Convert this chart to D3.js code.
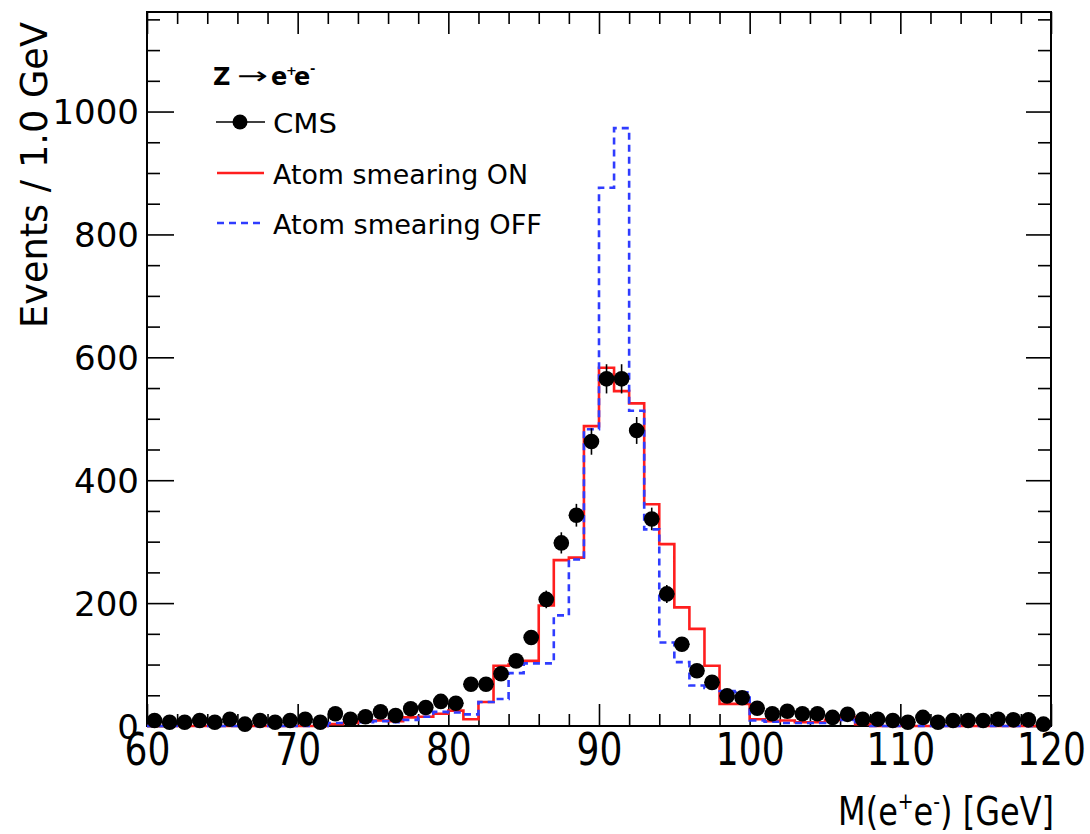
<!DOCTYPE html>
<html><head><meta charset="utf-8">
<script src="https://cdn.jsdelivr.net/npm/d3@7"></script>
<style>body{margin:0;background:#fff}svg{display:block}</style>
</head><body><svg id="c" width="1090" height="834"></svg>
<script>
// ---- data (1 GeV bins, lower edges 60..119) ----
const binLow = d3.range(60, 120, 1);
const cmsCounts = [9,6,6,9,6,11,3,9,6,9,
                   11,6,20,11,15,23,17,28,30,40,
                   37,68,68,85,106,144,206,298,343,463,
                   565,565,481,337,215,133,90,71,49,46,
                   29,20,24,20,20,14,19,11,11,9,
                   6,14,6,9,9,9,11,10,10,3];
const atomOn  = [0,0,0,0,0,0,0,0,0,0,
                 0,0,3,5,8,9,8,14,15,20,
                 25,11,39,98,100,106,196,270,274,488,
                 583,545,525,361,296,193,158,98,36,36,
                 11,8,9,6,6,10,15,3,0,0,
                 0,0,0,0,0,0,0,0,0,0];
const atomOff = [0,0,0,0,0,0,0,0,0,0,
                 0,0,5,5,6,8,6,10,15,23,
                 22,19,39,44,86,102,102,180,271,483,
                 876,973,513,320,136,104,66,62,57,55,
                 9,7,5,5,5,7,10,2,0,0,
                 0,0,0,0,0,0,0,0,0,0];
const xTickValues = [60,70,80,90,100,110,120];
const yTickValues = [0,200,400,600,800,1000];
const legendLabels = ["CMS", "Atom smearing ON", "Atom smearing OFF"];

// ---- layout ----
const svg = d3.select("#c");
svg.append("rect").attr("width",1090).attr("height",834).attr("fill","#fff");
const x = d3.scaleLinear().domain([60,120]).range([147,1051]);
const y = d3.scaleLinear().domain([0,1162]).range([726,12]);
const FONT = "'DejaVu Sans', sans-serif";

function styleAxis(g){
  g.select(".domain").remove();
  g.selectAll(".tick line").attr("stroke","#000").attr("stroke-width",1.6);
}
// bottom
const gxb = svg.append("g").attr("transform","translate(0,726)")
  .call(d3.axisBottom(x).tickValues(xTickValues).tickSize(-22).tickPadding(8).tickFormat(d3.format("d")));
styleAxis(gxb);
gxb.selectAll("text").attr("font-family",FONT).attr("font-size",44).attr("fill","#000")
  .attr("transform","scale(0.82,1)");
const gxbm = svg.append("g").attr("transform","translate(0,726)")
  .call(d3.axisBottom(x).tickValues(d3.range(60,121,2).filter(v=>v%10)).tickSize(-12).tickFormat(""));
styleAxis(gxbm);
// top
const gxt = svg.append("g").attr("transform","translate(0,12)")
  .call(d3.axisTop(x).tickValues(xTickValues).tickSize(-22).tickFormat(""));
styleAxis(gxt);
const gxtm = svg.append("g").attr("transform","translate(0,12)")
  .call(d3.axisTop(x).tickValues(d3.range(60,121,2).filter(v=>v%10)).tickSize(-12).tickFormat(""));
styleAxis(gxtm);
// left
const gyl = svg.append("g").attr("transform","translate(147,0)")
  .call(d3.axisLeft(y).tickValues(yTickValues).tickSize(-27).tickPadding(8).tickFormat(d3.format("d")));
styleAxis(gyl);
gyl.selectAll("text").attr("font-family",FONT).attr("font-size",34).attr("fill","#000").attr("dy","0.36em");
const yMinor = d3.range(50,1162,50).filter(v=>v%200);
const gylm = svg.append("g").attr("transform","translate(147,0)")
  .call(d3.axisLeft(y).tickValues(yMinor).tickSize(-13).tickFormat(""));
styleAxis(gylm);
// right
const gyr = svg.append("g").attr("transform","translate(1051,0)")
  .call(d3.axisRight(y).tickValues(yTickValues).tickSize(-25).tickFormat(""));
styleAxis(gyr);
const gyrm = svg.append("g").attr("transform","translate(1051,0)")
  .call(d3.axisRight(y).tickValues(yMinor).tickSize(-13).tickFormat(""));
styleAxis(gyrm);

// frame
svg.append("rect").attr("x",147).attr("y",12).attr("width",904).attr("height",714)
  .attr("fill","none").attr("stroke","#000").attr("stroke-width",2);

// ---- histograms ----
const RED = "#ff1e1e", BLUE = "#2f3cff";
function stepPts(vals){ const p = vals.map((v,i)=>[binLow[i],v]); p.push([120, vals[vals.length-1]]); return p; }
const stepLine = d3.line().x(d=>x(d[0])).y(d=>y(d[1])).curve(d3.curveStepAfter);
svg.append("path").attr("d",stepLine(stepPts(atomOn))).attr("fill","none")
  .attr("stroke",RED).attr("stroke-width",2.6);
svg.append("path").attr("d",stepLine(stepPts(atomOff))).attr("fill","none")
  .attr("stroke",BLUE).attr("stroke-width",2.6).attr("stroke-dasharray","7,5");

// ---- CMS points ----
const pts = svg.append("g");
cmsCounts.forEach((v,i)=>{
  const cx = x(binLow[i]+0.5), e = Math.sqrt(v);
  pts.append("line").attr("x1",cx).attr("x2",cx).attr("y1",y(v-e)).attr("y2",y(v+e))
    .attr("stroke","#000").attr("stroke-width",1.6);
  pts.append("line").attr("x1",x(binLow[i])).attr("x2",x(binLow[i]+1)).attr("y1",y(v)).attr("y2",y(v))
    .attr("stroke","#000").attr("stroke-width",1.6);
  pts.append("circle").attr("cx",cx).attr("cy",y(v)).attr("r",7.8).attr("fill","#000");
});

// ---- legend ----
const lg = svg.append("g").attr("font-family",FONT).attr("fill","#000");
lg.append("text").attr("x",213).attr("y",85).attr("font-size",24).attr("font-weight","bold").text("Z");
lg.append("text").attr("x",237).attr("y",84).attr("font-size",24).attr("textLength",31).attr("lengthAdjust","spacingAndGlyphs").text("→");
lg.append("text").attr("x",271).attr("y",85).attr("font-size",24).attr("font-weight","bold").text("e");
lg.append("text").attr("x",286).attr("y",75).attr("font-size",13).attr("font-weight","bold").text("+");
lg.append("text").attr("x",294).attr("y",85).attr("font-size",24).attr("font-weight","bold").text("e");
lg.append("text").attr("x",310).attr("y",73).attr("font-size",13).attr("font-weight","bold").text("-");

const rows = [122,173,223];
// CMS sample
lg.append("line").attr("x1",216).attr("x2",265).attr("y1",rows[0]).attr("y2",rows[0]).attr("stroke","#000").attr("stroke-width",1.6);
lg.append("circle").attr("cx",240).attr("cy",rows[0]).attr("r",7.5).attr("fill","#000");
lg.append("line").attr("x1",217).attr("x2",264).attr("y1",rows[1]).attr("y2",rows[1]).attr("stroke",RED).attr("stroke-width",2.6);
lg.append("line").attr("x1",217).attr("x2",264).attr("y1",rows[2]).attr("y2",rows[2]).attr("stroke",BLUE).attr("stroke-width",2.6).attr("stroke-dasharray","7,5");
const lw = [64, 255, 269];
legendLabels.forEach((t,i)=>{
  lg.append("text").attr("x",273).attr("y",rows[i]+11).attr("font-size",27)
    .attr("textLength",lw[i]).attr("lengthAdjust","spacingAndGlyphs").text(t);
});

// ---- axis titles ----
const xt = svg.append("text").attr("font-family",FONT).attr("font-size",39).attr("text-anchor","end")
  .attr("transform","translate(1054,825) scale(0.82,1)");
xt.append("tspan").text("M(e");
xt.append("tspan").attr("font-size",23).attr("dy",-16).text("+");
xt.append("tspan").attr("dy",16).text("e");
xt.append("tspan").attr("font-size",23).attr("dy",-16).text("-");
xt.append("tspan").attr("dy",16).text(") [GeV]");

svg.append("text").attr("font-family",FONT).attr("font-size",37).attr("text-anchor","end")
  .attr("transform","translate(47,22) rotate(-90)")
  .attr("textLength",306).attr("lengthAdjust","spacingAndGlyphs")
  .text("Events / 1.0 GeV");
</script></body></html>
